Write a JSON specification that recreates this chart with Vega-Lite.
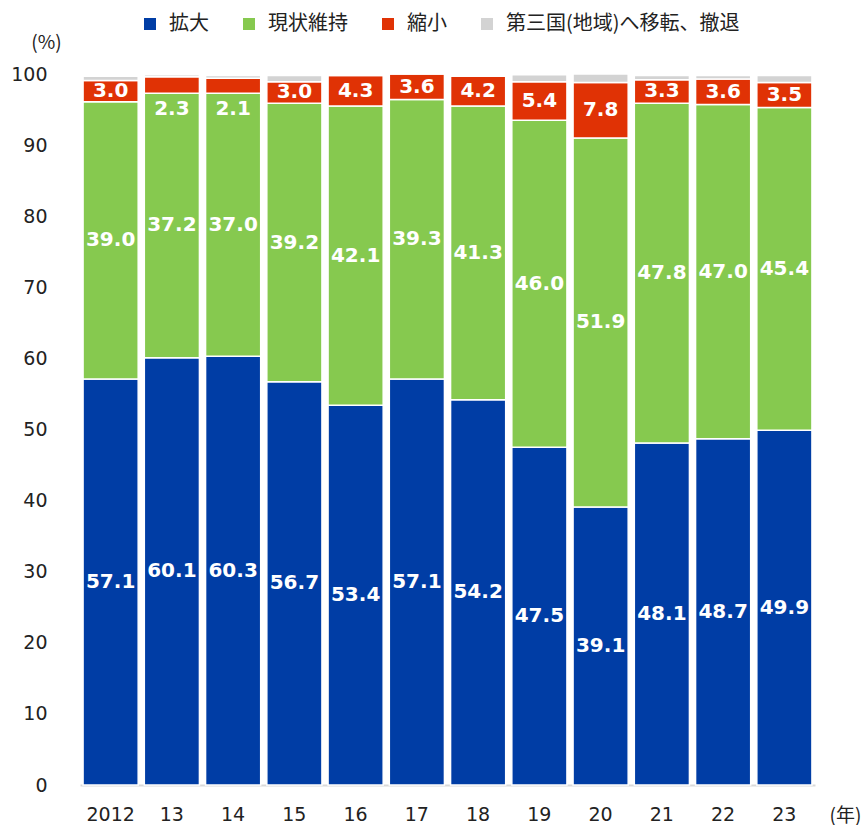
{
  "$schema": "https://vega.github.io/schema/vega-lite/v6.json",
  "width": 735,
  "height": 711,
  "autosize": {"type": "none"},
  "padding": {"left": 80, "top": 74, "right": 48, "bottom": 40},
  "background": "white",
  "config": {"view": {"stroke": null}, "font": "Noto Sans CJK JP"},
  "data": {"values": [
    {"year": "2012", "cat": "拡大", "o": 1, "v": 57.1},
    {"year": "2012", "cat": "現状維持", "o": 2, "v": 39.0},
    {"year": "2012", "cat": "縮小", "o": 3, "v": 3.0},
    {"year": "2012", "cat": "第三国(地域)へ移転、撤退", "o": 4, "v": 0.6},
    {"year": "13", "cat": "拡大", "o": 1, "v": 60.1},
    {"year": "13", "cat": "現状維持", "o": 2, "v": 37.2},
    {"year": "13", "cat": "縮小", "o": 3, "v": 2.3},
    {"year": "13", "cat": "第三国(地域)へ移転、撤退", "o": 4, "v": 0.3},
    {"year": "14", "cat": "拡大", "o": 1, "v": 60.3},
    {"year": "14", "cat": "現状維持", "o": 2, "v": 37.0},
    {"year": "14", "cat": "縮小", "o": 3, "v": 2.1},
    {"year": "14", "cat": "第三国(地域)へ移転、撤退", "o": 4, "v": 0.4},
    {"year": "15", "cat": "拡大", "o": 1, "v": 56.7},
    {"year": "15", "cat": "現状維持", "o": 2, "v": 39.2},
    {"year": "15", "cat": "縮小", "o": 3, "v": 3.0},
    {"year": "15", "cat": "第三国(地域)へ移転、撤退", "o": 4, "v": 0.9},
    {"year": "16", "cat": "拡大", "o": 1, "v": 53.4},
    {"year": "16", "cat": "現状維持", "o": 2, "v": 42.1},
    {"year": "16", "cat": "縮小", "o": 3, "v": 4.3},
    {"year": "16", "cat": "第三国(地域)へ移転、撤退", "o": 4, "v": 0.1},
    {"year": "17", "cat": "拡大", "o": 1, "v": 57.1},
    {"year": "17", "cat": "現状維持", "o": 2, "v": 39.3},
    {"year": "17", "cat": "縮小", "o": 3, "v": 3.6},
    {"year": "17", "cat": "第三国(地域)へ移転、撤退", "o": 4, "v": 0.0},
    {"year": "18", "cat": "拡大", "o": 1, "v": 54.2},
    {"year": "18", "cat": "現状維持", "o": 2, "v": 41.3},
    {"year": "18", "cat": "縮小", "o": 3, "v": 4.2},
    {"year": "18", "cat": "第三国(地域)へ移転、撤退", "o": 4, "v": 0.2},
    {"year": "19", "cat": "拡大", "o": 1, "v": 47.5},
    {"year": "19", "cat": "現状維持", "o": 2, "v": 46.0},
    {"year": "19", "cat": "縮小", "o": 3, "v": 5.4},
    {"year": "19", "cat": "第三国(地域)へ移転、撤退", "o": 4, "v": 1.0},
    {"year": "20", "cat": "拡大", "o": 1, "v": 39.1},
    {"year": "20", "cat": "現状維持", "o": 2, "v": 51.9},
    {"year": "20", "cat": "縮小", "o": 3, "v": 7.8},
    {"year": "20", "cat": "第三国(地域)へ移転、撤退", "o": 4, "v": 1.2},
    {"year": "21", "cat": "拡大", "o": 1, "v": 48.1},
    {"year": "21", "cat": "現状維持", "o": 2, "v": 47.8},
    {"year": "21", "cat": "縮小", "o": 3, "v": 3.3},
    {"year": "21", "cat": "第三国(地域)へ移転、撤退", "o": 4, "v": 0.6},
    {"year": "22", "cat": "拡大", "o": 1, "v": 48.7},
    {"year": "22", "cat": "現状維持", "o": 2, "v": 47.0},
    {"year": "22", "cat": "縮小", "o": 3, "v": 3.6},
    {"year": "22", "cat": "第三国(地域)へ移転、撤退", "o": 4, "v": 0.5},
    {"year": "23", "cat": "拡大", "o": 1, "v": 49.9},
    {"year": "23", "cat": "現状維持", "o": 2, "v": 45.4},
    {"year": "23", "cat": "縮小", "o": 3, "v": 3.5},
    {"year": "23", "cat": "第三国(地域)へ移転、撤退", "o": 4, "v": 1.0}
  ]},
  "transform": [
    {"stack": "v", "groupby": ["year"], "sort": [{"field": "o", "order": "ascending"}], "as": ["y0", "y1"]},
    {"calculate": "(datum.y0 + datum.y1) / 2", "as": "mid"}
  ],
  "encoding": {
    "x": {
      "field": "year", "type": "nominal", "sort": null,
      "scale": {"paddingInner": 0.1, "paddingOuter": 0.05},
      "axis": {
        "labelAngle": 0, "labelFontSize": 19, "labelColor": "#222", "labelPadding": 20,
        "labelFont": "DejaVu Sans",
        "ticks": false, "domainColor": "#d9d9d9", "domainWidth": 2,
        "title": "(年)", "titleFontSize": 19, "titleFontWeight": "normal", "titleColor": "#222",
        "titleX": 765, "titleY": 30, "titleAlign": "center", "titleBaseline": "middle"
      }
    }
  },
  "layer": [
    {
      "mark": {"type": "bar", "stroke": "white", "strokeWidth": 1.5},
      "encoding": {
        "y": {
          "field": "y0", "type": "quantitative",
          "scale": {"domain": [0, 100], "nice": false},
          "axis": {
            "values": [0, 10, 20, 30, 40, 50, 60, 70, 80, 90, 100],
            "grid": false, "domain": false, "ticks": false,
            "labelFontSize": 19, "labelColor": "#222", "labelAlign": "right", "labelPadding": 33,
            "labelFont": "DejaVu Sans",
            "title": "(%)", "titleAngle": 0, "titleFontSize": 19, "titleFontWeight": "normal", "titleColor": "#222",
            "titleX": -34, "titleY": -32, "titleAlign": "center", "titleBaseline": "middle"
          }
        },
        "y2": {"field": "y1"},
        "color": {
          "field": "cat", "type": "nominal",
          "scale": {
            "domain": ["拡大", "現状維持", "縮小", "第三国(地域)へ移転、撤退"],
            "range": ["#003DA5", "#86C94F", "#E03205", "#D3D3D3"]
          },
          "legend": {
            "orient": "none", "legendX": 60, "legendY": -60, "direction": "horizontal",
            "title": null, "symbolType": "square", "symbolSize": 144, "symbolStrokeWidth": 0,
            "labelFontSize": 20, "labelColor": "#222", "columnPadding": 30, "labelOffset": 9,
            "labelLimit": 400
          }
        }
      }
    },
    {
      "transform": [
        {"filter": "datum.o < 4 && !(datum.o == 3 && datum.v < 2.5)"}
      ],
      "mark": {"type": "text", "color": "white", "fontWeight": "bold", "fontSize": 20, "font": "DejaVu Sans", "baseline": "middle"},
      "encoding": {
        "y": {"field": "mid", "type": "quantitative"},
        "text": {"field": "v", "type": "quantitative", "format": ".1f"}
      }
    },
    {
      "transform": [
        {"filter": "datum.o == 3 && datum.v < 2.5"}
      ],
      "mark": {"type": "text", "color": "white", "fontWeight": "bold", "fontSize": 20, "font": "DejaVu Sans", "baseline": "top", "dy": 6},
      "encoding": {
        "y": {"field": "y0", "type": "quantitative"},
        "text": {"field": "v", "type": "quantitative", "format": ".1f"}
      }
    }
  ]
}
